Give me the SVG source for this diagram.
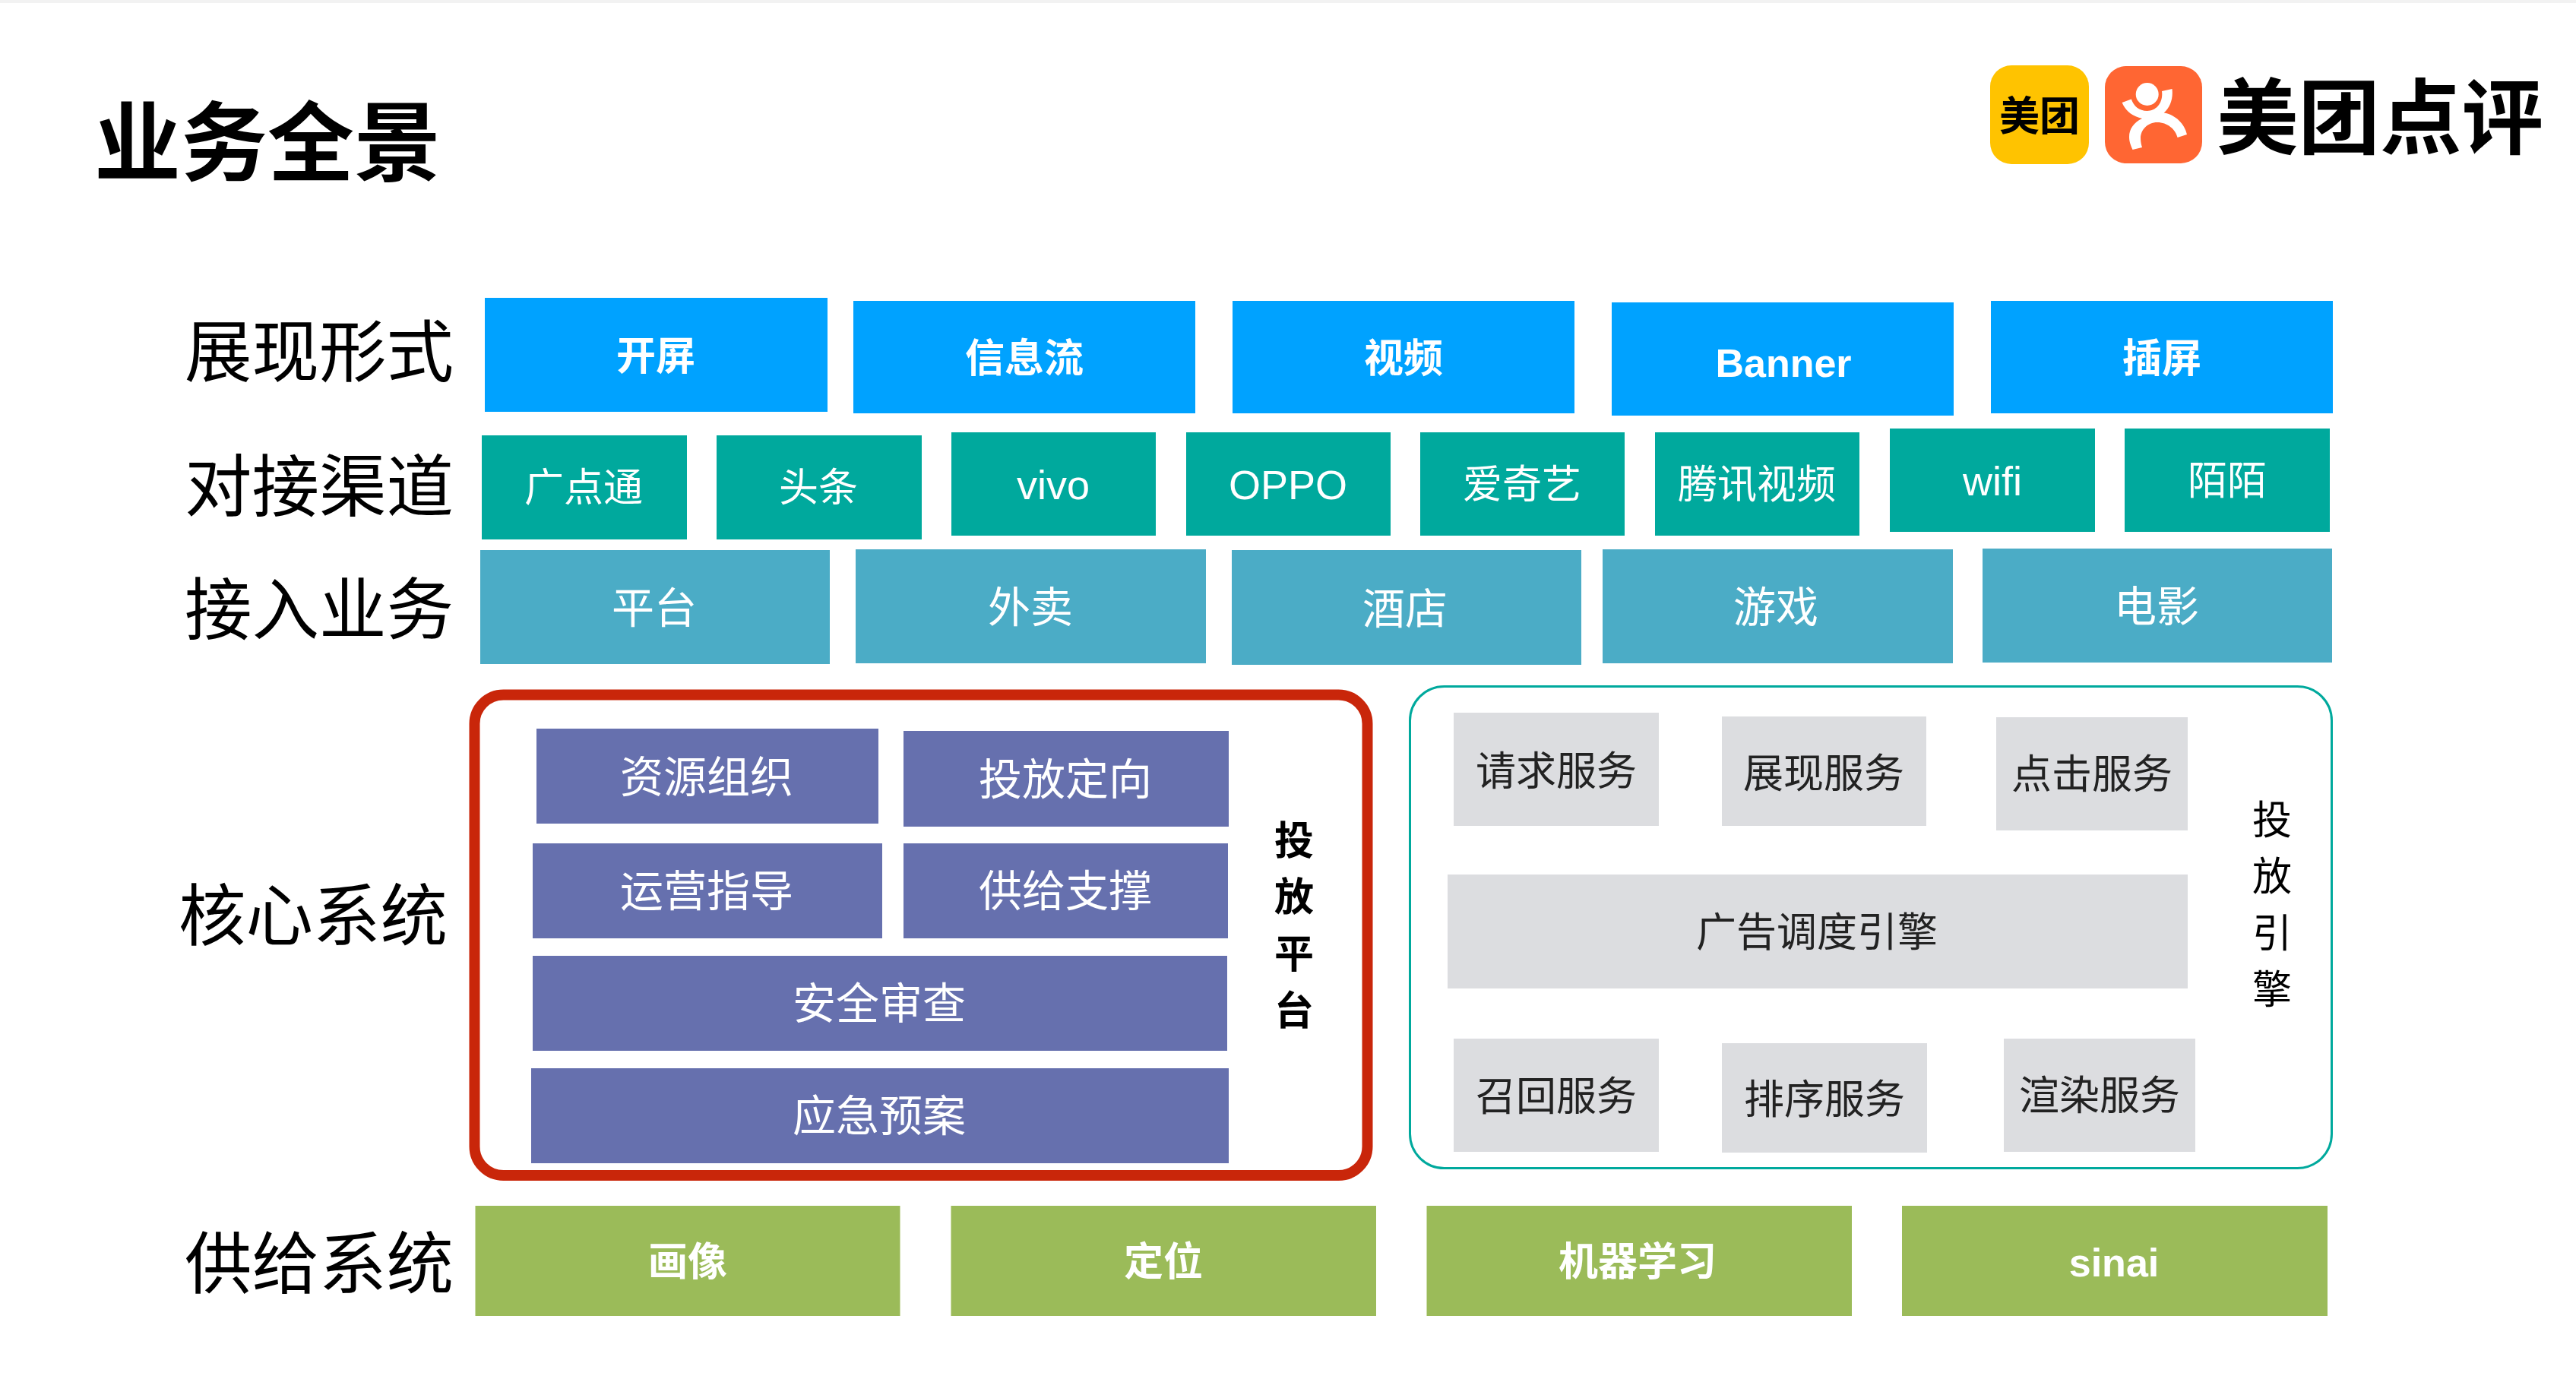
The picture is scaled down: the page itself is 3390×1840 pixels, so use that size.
<svg xmlns="http://www.w3.org/2000/svg" width="3390" height="1840" viewBox="0 0 3390 1840">
<style>
text{font-family:"Liberation Sans","Noto Sans CJK SC",sans-serif;text-anchor:middle;dominant-baseline:central}
.cjk{font-family:"Noto Sans CJK SC","Liberation Sans",sans-serif}
.lab{font-size:88.5px;fill:#000}
.b{fill:#00a2ff}.t{fill:#00a99d}.s{fill:#4bacc6}.p{fill:#6670ae}.g{fill:#dcdde0}.v{fill:#9bbb59}
.wb{fill:#fff;font-size:52px;font-weight:700}
.w{fill:#fff;font-size:54px}
.w2{fill:#fff;font-size:52px}
.w3{fill:#fff;font-size:56px}
.w4{fill:#fff;font-size:57px}
.k{fill:#222;font-size:53px}
</style>
<rect width="3390" height="1840" fill="#fff"/>
<rect width="3390" height="4" fill="#f2f2f2"/>
<text id="title" class="cjk" x="352" y="179" font-size="114" font-weight="700" fill="#000">业务全景</text>
<g id="logo">
<rect x="2619" y="86" width="130" height="130" rx="28" fill="#ffc300"/>
<text class="cjk" x="2684" y="149" font-size="53" font-weight="700" fill="#000">美团</text>
<rect x="2770" y="87" width="128" height="128" rx="28" fill="#ff6633"/>
<circle cx="2825.7" cy="124" r="15" fill="#fff"/>
<path fill="#fff" d="M2792.6 135L2804.8 130.6C2808 140 2815 146 2825.7 146C2838 146 2847 135 2845 120L2858.5 117C2860 130 2856 141 2847.7 148.5C2863 151 2875 163 2878 177L2865.6 181C2863 170 2852 161 2839 161C2826 161 2817 171 2817 182C2817 187 2818 191 2819 194L2806.5 197C2803 189 2802 185 2802 180C2802 170 2808 161 2819 156C2806 153 2797 146 2792.6 135Z"/>
<text class="cjk" x="3132" y="147" font-size="107.5" font-weight="700" fill="#000">美团点评</text>
</g>
<g id="labels">
<text class="lab cjk" x="420" y="456">展现形式</text>
<text class="lab cjk" x="420" y="633">对接渠道</text>
<text class="lab cjk" x="420" y="795">接入业务</text>
<text class="lab cjk" x="412" y="1198">核心系统</text>
<text class="lab cjk" x="420" y="1656">供给系统</text>
</g>
<g id="n-kaiping"><rect class="b" x="638" y="392" width="451" height="150"/><text class="wb cjk" x="863" y="464">开屏</text></g>
<g id="n-xinxiliu"><rect class="b" x="1123" y="396" width="450" height="148"/><text class="wb cjk" x="1348" y="467">信息流</text></g>
<g id="n-shipin"><rect class="b" x="1622" y="396" width="450" height="148"/><text class="wb cjk" x="1847" y="467">视频</text></g>
<g id="n-banner"><rect class="b" x="2121" y="398" width="450" height="149"/><text class="wb" x="2347" y="478" font-size="54">Banner</text></g>
<g id="n-chaping"><rect class="b" x="2620" y="396" width="450" height="148"/><text class="wb cjk" x="2845" y="467">插屏</text></g>

<g id="n-guangdiantong"><rect class="t" x="634" y="573" width="270" height="137"/><text class="w2 cjk" x="768" y="637">广点通</text></g>
<g id="n-toutiao"><rect class="t" x="943" y="573" width="270" height="137"/><text class="w2 cjk" x="1077" y="637">头条</text></g>
<g id="n-vivo"><rect class="t" x="1252" y="569" width="269" height="136"/><text class="w" x="1386" y="638">vivo</text></g>
<g id="n-oppo"><rect class="t" x="1561" y="569" width="269" height="136"/><text class="w" x="1695" y="638">OPPO</text></g>
<g id="n-aiqiyi"><rect class="t" x="1869" y="569" width="269" height="136"/><text class="w2 cjk" x="2003" y="633">爱奇艺</text></g>
<g id="n-tengxun"><rect class="t" x="2178" y="569" width="269" height="136"/><text class="w2 cjk" x="2312" y="633">腾讯视频</text></g>
<g id="n-wifi"><rect class="t" x="2487" y="564" width="270" height="136"/><text class="w" x="2622" y="633">wifi</text></g>
<g id="n-momo"><rect class="t" x="2796" y="564" width="270" height="136"/><text class="w2 cjk" x="2931" y="628">陌陌</text></g>

<g id="n-pingtai"><rect class="s" x="632" y="724" width="460" height="150"/><text class="w3 cjk" x="861" y="795">平台</text></g>
<g id="n-waimai"><rect class="s" x="1126" y="723" width="461" height="150"/><text class="w3 cjk" x="1356" y="794">外卖</text></g>
<g id="n-jiudian"><rect class="s" x="1621" y="724" width="460" height="151"/><text class="w3 cjk" x="1849" y="796">酒店</text></g>
<g id="n-youxi"><rect class="s" x="2109" y="723" width="461" height="150"/><text class="w3 cjk" x="2337" y="794">游戏</text></g>
<g id="n-dianying"><rect class="s" x="2609" y="722" width="460" height="150"/><text class="w3 cjk" x="2838" y="793">电影</text></g>

<g id="n-platform">
<rect x="624.5" y="914.5" width="1175" height="632.5" rx="38" fill="#fff" stroke="#c9260a" stroke-width="14"/>
<text class="cjk" x="1703" y="1102" font-size="52" font-weight="700" fill="#000">投</text>
<text class="cjk" x="1703" y="1176" font-size="52" font-weight="700" fill="#000">放</text>
<text class="cjk" x="1703" y="1251" font-size="52" font-weight="700" fill="#000">平</text>
<text class="cjk" x="1703" y="1326" font-size="52" font-weight="700" fill="#000">台</text>
</g>
<g id="n-ziyuan"><rect class="p" x="706" y="959" width="450" height="125"/><text class="w4 cjk" x="930" y="1018">资源组织</text></g>
<g id="n-toufang"><rect class="p" x="1189" y="962" width="428" height="126"/><text class="w4 cjk" x="1402" y="1021">投放定向</text></g>
<g id="n-yunying"><rect class="p" x="701" y="1110" width="460" height="125"/><text class="w4 cjk" x="930" y="1168">运营指导</text></g>
<g id="n-gongji"><rect class="p" x="1189" y="1110" width="427" height="125"/><text class="w4 cjk" x="1402" y="1168">供给支撑</text></g>
<g id="n-anquan"><rect class="p" x="701" y="1258" width="914" height="125"/><text class="w4 cjk" x="1157" y="1316">安全审查</text></g>
<g id="n-yingji"><rect class="p" x="699" y="1406" width="918" height="125"/><text class="w4 cjk" x="1157" y="1464">应急预案</text></g>

<g id="n-engine">
<rect x="1855.5" y="903.5" width="1213" height="634" rx="45" fill="#fff" stroke="#00a99d" stroke-width="3"/>
<text class="cjk" x="2990" y="1075" font-size="52" fill="#000">投</text>
<text class="cjk" x="2990" y="1149" font-size="52" fill="#000">放</text>
<text class="cjk" x="2990" y="1224" font-size="52" fill="#000">引</text>
<text class="cjk" x="2990" y="1298" font-size="52" fill="#000">擎</text>
</g>
<g id="n-qingqiu"><rect class="g" x="1913" y="938" width="270" height="149"/><text class="k cjk" x="2048" y="1011">请求服务</text></g>
<g id="n-zhanxian"><rect class="g" x="2266" y="943" width="269" height="144"/><text class="k cjk" x="2400" y="1014">展现服务</text></g>
<g id="n-dianji"><rect class="g" x="2627" y="944" width="252" height="149"/><text class="k cjk" x="2753" y="1015">点击服务</text></g>
<g id="n-diaodu"><rect class="g" x="1905" y="1151" width="974" height="150"/><text class="k cjk" x="2391" y="1223">广告调度引擎</text></g>
<g id="n-zhaohui"><rect class="g" x="1913" y="1367" width="270" height="149"/><text class="k cjk" x="2048" y="1439">召回服务</text></g>
<g id="n-paixu"><rect class="g" x="2266" y="1373" width="270" height="144"/><text class="k cjk" x="2401" y="1443">排序服务</text></g>
<g id="n-xuanran"><rect class="g" x="2637" y="1367" width="252" height="149"/><text class="k cjk" x="2763" y="1438">渲染服务</text></g>

<g id="n-huaxiang"><rect class="v" x="625.5" y="1587" width="559" height="145"/><text class="wb cjk" x="905" y="1656">画像</text></g>
<g id="n-dingwei"><rect class="v" x="1251.5" y="1587" width="559.5" height="145"/><text class="wb cjk" x="1531" y="1656">定位</text></g>
<g id="n-jiqi"><rect class="v" x="1877.5" y="1587" width="559.5" height="145"/><text class="wb cjk" x="2155" y="1656">机器学习</text></g>
<g id="n-sinai"><rect class="v" x="2503" y="1587" width="560" height="145"/><text class="wb" x="2782" y="1662" font-size="54">sinai</text></g>
</svg>
